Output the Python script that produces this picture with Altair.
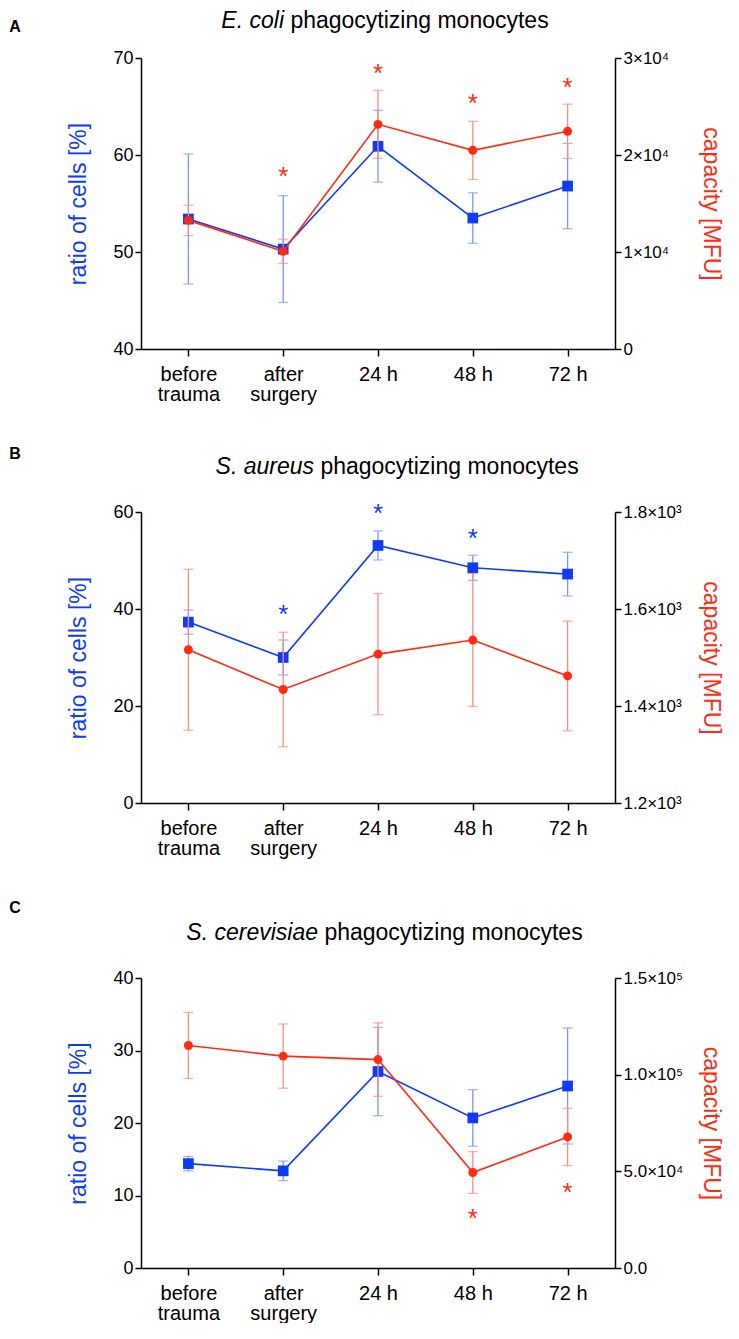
import altair as alt
import pandas as pd

cats = ["before trauma", "after surgery", "24 h", "48 h", "72 h"]

# Panel A: E. coli
ratio_a = [53.4, 50.3, 60.9, 53.5, 56.8]
ratio_a_err = [6.7, 5.5, 3.7, 2.6, 4.4]
cap_a = [13260, 10070, 23160, 20480, 22440]
cap_a_err = [1570, 1250, 3500, 3000, 2800]
star_a_cat = ["after surgery", "24 h", "48 h", "72 h"]
star_a_val = [18100, 28800, 25700, 27300]

# Panel B: S. aureus
ratio_b = [37.3, 30.0, 53.1, 48.5, 47.2]
ratio_b_err = [2.5, 3.6, 3.0, 2.6, 4.5]
cap_b = [1516, 1434, 1507, 1536, 1462]
cap_b_err = [166, 118, 125, 137, 113]
star_b_cat = ["after surgery", "24 h", "48 h"]
star_b_val = [39.5, 60.4, 55.3]

# Panel C: S. cerevisiae
ratio_c = [14.4, 13.4, 27.1, 20.7, 25.1]
ratio_c_err = [1.0, 1.35, 6.1, 3.9, 8.0]
cap_c = [115100, 109600, 107800, 49400, 67800]
cap_c_err = [17100, 16600, 19000, 10800, 14800]
star_c_cat = ["48 h", "72 h"]
star_c_val = [27300, 41100]

BLUE = "#0f3cf2"
BLUE_ERR = "#7b96f7"
RED = "#ff2a12"
RED_ERR = "#f78d80"
FONT = "Liberation Sans"
W = 474
TFS = 23


def xenc():
    return alt.X(
        "t:N", sort=cats, scale=alt.Scale(type="point", padding=0.5),
        axis=alt.Axis(
            title=None, labelAngle=0, labelFont=FONT, labelFontSize=20,
            labelColor="black", labelLineHeight=20, labelPadding=8,
            labelExpr="indexof(datum.label, ' h') > 0 ? datum.label : split(datum.label, ' ')",
            domainColor="black", domainWidth=1.5, tickColor="black",
            tickWidth=1.5, tickSize=7, grid=False,
        ),
    )


def panel(letter, letter_y, it_title, title_pivot, title_y, H,
          ratio, ratio_err, cap, cap_err, ldom, lvals, rdom, rvals, rexpr,
          star_cat, star_val, star_side):
    df = pd.DataFrame({
        "t": cats,
        "r": ratio,
        "rlo": [v - e for v, e in zip(ratio, ratio_err)],
        "rhi": [v + e for v, e in zip(ratio, ratio_err)],
        "c": cap,
        "clo": [v - e for v, e in zip(cap, cap_err)],
        "chi": [v + e for v, e in zip(cap, cap_err)],
    })
    stars = pd.DataFrame({"t": star_cat, "v": star_val})

    laxis = alt.Axis(
        orient="left", values=lvals, title="ratio of cells [%]", titleColor=BLUE,
        titleFont=FONT, titleFontSize=23, titleFontWeight="normal",
        titleX=-63, titleY=H / 2, titleBaseline="middle", titleAngle=270,
        titleAlign="center",
        labelFont=FONT, labelFontSize=18, labelColor="black", labelPadding=2,
        domainColor="black", domainWidth=1.5, tickColor="black", tickWidth=1.5,
        tickSize=6, grid=False,
    )
    raxis = alt.Axis(
        orient="right", values=rvals, labelExpr=rexpr, title="capacity [MFU]",
        titleColor=RED, titleFont=FONT, titleFontSize=23, titleFontWeight="normal",
        titleX=95, titleY=H / 2, titleBaseline="middle", titleAngle=90,
        titleAlign="center",
        labelFont=FONT, labelFontSize=17, labelColor="black", labelPadding=2,
        domainColor="black", domainWidth=1.5, tickColor="black", tickWidth=1.5,
        tickSize=6, grid=False,
    )
    lsc = alt.Scale(domain=ldom, nice=False, zero=False)
    rsc = alt.Scale(domain=rdom, nice=False, zero=False)

    b = alt.Chart(df)
    left_layers = [
        b.mark_rule(color=BLUE_ERR, strokeWidth=1.3).encode(
            x=xenc(), y=alt.Y("rlo:Q", scale=lsc, axis=laxis), y2="rhi:Q"),
        b.mark_tick(color=BLUE_ERR, size=10, thickness=1.3).encode(
            x=xenc(), y=alt.Y("rlo:Q", scale=lsc, axis=laxis)),
        b.mark_tick(color=BLUE_ERR, size=10, thickness=1.3).encode(
            x=xenc(), y=alt.Y("rhi:Q", scale=lsc, axis=laxis)),
        b.mark_line(color=BLUE, strokeWidth=1.6).encode(
            x=xenc(), y=alt.Y("r:Q", scale=lsc, axis=laxis)),
        b.mark_point(shape="square", filled=True, size=115, color=BLUE, opacity=1).encode(
            x=xenc(), y=alt.Y("r:Q", scale=lsc, axis=laxis)),
    ]
    right_layers = [
        b.mark_rule(color=RED_ERR, strokeWidth=1.3).encode(
            x=xenc(), y=alt.Y("clo:Q", scale=rsc, axis=raxis), y2="chi:Q"),
        b.mark_tick(color=RED_ERR, size=10, thickness=1.3).encode(
            x=xenc(), y=alt.Y("clo:Q", scale=rsc, axis=raxis)),
        b.mark_tick(color=RED_ERR, size=10, thickness=1.3).encode(
            x=xenc(), y=alt.Y("chi:Q", scale=rsc, axis=raxis)),
        b.mark_line(color=RED, strokeWidth=1.6).encode(
            x=xenc(), y=alt.Y("c:Q", scale=rsc, axis=raxis)),
        b.mark_point(shape="circle", filled=True, size=80, color=RED, opacity=1).encode(
            x=xenc(), y=alt.Y("c:Q", scale=rsc, axis=raxis)),
    ]
    if star_side == "left":
        left_layers.append(
            alt.Chart(stars).mark_text(text="*", fontSize=26, font=FONT, color=BLUE,
                                       baseline="alphabetic", dy=12).encode(
                x=xenc(), y=alt.Y("v:Q", scale=lsc, axis=laxis)))
    else:
        right_layers.append(
            alt.Chart(stars).mark_text(text="*", fontSize=26, font=FONT, color=RED,
                                       baseline="alphabetic", dy=12).encode(
                x=xenc(), y=alt.Y("v:Q", scale=rsc, axis=raxis)))

    it_df = pd.DataFrame({"s": [it_title]})
    rg_df = pd.DataFrame({"s": ["phagocytizing monocytes"]})
    lt_df = pd.DataFrame({"s": [letter]})
    texts = [
        alt.Chart(it_df).mark_text(font=FONT, fontSize=TFS, fontStyle="italic",
                                   align="right", baseline="top", color="black").encode(
            text="s:N", x=alt.value(title_pivot), y=alt.value(title_y)),
        alt.Chart(rg_df).mark_text(font=FONT, fontSize=TFS, align="left",
                                   baseline="top", color="black").encode(
            text="s:N", x=alt.value(title_pivot + 6.4), y=alt.value(title_y)),
        alt.Chart(lt_df).mark_text(font=FONT, fontSize=16, fontWeight="bold",
                                   align="center", baseline="middle", color="black").encode(
            text="s:N", x=alt.value(-126), y=alt.value(letter_y)),
    ]
    left = alt.layer(*left_layers, *texts)
    right = alt.layer(*right_layers)
    return alt.layer(left, right).resolve_scale(y="independent").properties(width=W, height=H)


pa = panel("A", -31, "E. coli", 143, -48, 291,
           ratio_a, ratio_a_err, cap_a, cap_a_err, [40, 70], [40, 50, 60, 70],
           [0, 30000], [0, 10000, 20000, 30000],
           "datum.value == 0 ? '0' : format(datum.value / 10000, 'd') + '×10⁴'",
           star_a_cat, star_a_val, "right")
pb = panel("B", -58, "S. aureus", 173, -56, 291,
           ratio_b, ratio_b_err, cap_b, cap_b_err, [0, 60], [0, 20, 40, 60],
           [1200, 1800], [1200, 1400, 1600, 1800],
           "format(datum.value / 1000, '.1f') + '×10³'",
           star_b_cat, star_b_val, "left")
pc = panel("C", -70, "S. cerevisiae", 177, -56, 290,
           ratio_c, ratio_c_err, cap_c, cap_c_err, [0, 40], [0, 10, 20, 30, 40],
           [0, 150000], [0, 50000, 100000, 150000],
           "datum.value == 0 ? '0.0' : datum.value < 100000 ? format(datum.value / 10000, '.1f') + '×10⁴' : format(datum.value / 100000, '.1f') + '×10⁵'",
           star_c_cat, star_c_val, "right")

chart = alt.vconcat(pa, pb, pc, spacing=42).properties(
    padding={"left": 1, "top": 2, "right": 2, "bottom": 0}
).configure_view(stroke=None)

chart.save("out.html", embed_options={"renderer": "svg", "actions": False})
